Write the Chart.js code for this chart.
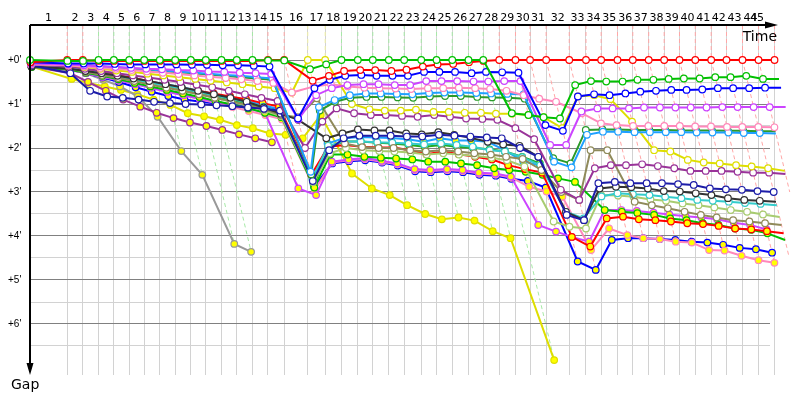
<!DOCTYPE html>
<html>
<head>
<meta charset="utf-8">
<script src="https://cdn.jsdelivr.net/npm/chart.js@4/dist/chart.umd.min.js"></script>
<style>
  html, body { margin: 0; background: #fff; }
</style>
</head>
<body>
<canvas id="gapChart" width="800" height="400"></canvas>
<script>
// Lap-by-lap gap chart: x = race time (minutes), y = gap to leader (minutes).
// A car's point at lap n sits at leader time of lap n + its gap.

const LAP_LABELS = ["1","2","3","4","5","6","7","8","9","10","11","12","13","14","15",
  "16","17","18","19","20","21","22","23","24","25","26","27","28","29","30",
  "31","32","33","34","35","36","37","38","39","40","41","42","43","44","45"];

// leader's elapsed time at the end of each lap (index 0 = start)
const LEADER_TIME = [0, 3.58, 5.08, 6.59, 8.06, 9.54, 10.98, 12.48, 13.96, 15.46, 16.90,
  18.41, 19.88, 21.39, 22.88, 24.44, 26.71, 28.38, 29.95, 31.52, 32.96,
  34.50, 35.98, 37.62, 39.09, 40.60, 42.16, 43.58, 45.12, 46.68, 48.08,
  49.63, 51.85, 53.46, 54.92, 56.49, 57.96, 59.49, 60.98, 62.45, 63.97,
  65.50, 66.97, 68.51, 70.05, 71.59];

const GAP_TICKS = [0, 0.5, 1, 1.5, 2, 2.5, 3, 3.5, 4, 4.5, 5, 5.5, 6, 6.5];
const GAP_LABEL_VALUES = [0, 1, 2, 3, 4, 5, 6];
const GAP_LABELS = ["+0'", "+1'", "+2'", "+3'", "+4'", "+5'", "+6'"];

// gaps per lap, one array per car
const GAP_GREEN = [0, 0.02, 0.02, 0, 0, 0, 0, 0, 0, 0, 0, 0, 0, 0, 0.01, 0.01,
  0.21, 0.1, 0, 0, 0, 0, 0, 0, 0, 0, 0, 0,
  1.21, 1.25, 1.3, 1.33, 0.57, 0.48, 0.49, 0.49, 0.45, 0.45, 0.43, 0.42, 0.42, 0.39, 0.39, 0.36, 0.43, 0.43];
const GAP_RED = [0.05, 0, 0, 0.02, 0.02, 0.02, 0.02, 0.02, 0.02, 0.02, 0.02, 0.02, 0.02, 0.02, 0, 0,
  0.47, 0.36, 0.25, 0.23, 0.23, 0.25, 0.22, 0.15, 0.1, 0.09, 0.05, 0.02,
  0, 0, 0, 0, 0, 0, 0, 0, 0, 0, 0, 0, 0, 0, 0, 0, 0, 0];
const GAP_BLUE = [0.05, 0.08, 0.08, 0.08, 0.09, 0.1, 0.1, 0.1, 0.1, 0.11, 0.11, 0.12, 0.12, 0.13, 0.15,
  1.33, 0.64, 0.45, 0.36, 0.34, 0.36, 0.36, 0.36, 0.27, 0.27, 0.27, 0.3, 0.27, 0.28, 0.29,
  1.48, 1.61, 0.83, 0.78, 0.8, 0.76, 0.72, 0.7, 0.68, 0.68, 0.67, 0.64, 0.64, 0.64, 0.63, 0.63];
const GAP_VIOLET = [0.08, 0.1, 0.12, 0.14, 0.16, 0.18, 0.2, 0.21, 0.23, 0.24, 0.26, 0.27, 0.29, 0.3, 0.32,
  1.35, 0.8, 0.64, 0.57, 0.55, 0.55, 0.57, 0.57, 0.48, 0.48, 0.48, 0.49, 0.49, 0.48, 0.48,
  1.93, 1.93, 1.17, 1.1, 1.1, 1.1, 1.08, 1.08, 1.08, 1.08, 1.08, 1.07, 1.07, 1.07, 1.07, 1.07];
const GAP_PINK = [0.1, 0.12, 0.15, 0.18, 0.2, 0.23, 0.26, 0.29, 0.32, 0.35, 0.38, 0.41, 0.44, 0.48, 0.52,
  0.74, 0.6, 0.55, 0.6, 0.63, 0.64, 0.65, 0.66, 0.64, 0.64, 0.63, 0.64, 0.66, 0.7, 0.8,
  0.88, 0.95, 1.21, 1.44, 1.48, 1.5, 1.5, 1.5, 1.5, 1.51, 1.51, 1.52, 1.52, 1.52, 1.53, 1.53];
const GAP_SKY = [0.08, 0.1, 0.12, 0.14, 0.16, 0.19, 0.21, 0.24, 0.26, 0.29, 0.31, 0.34, 0.36, 0.39, 0.42,
  2.54, 1.07, 0.91, 0.8, 0.76, 0.76, 0.77, 0.78, 0.75, 0.74, 0.74, 0.75, 0.76, 0.77, 0.78,
  2.31, 2.44, 1.7, 1.63, 1.63, 1.64, 1.64, 1.64, 1.64, 1.65, 1.65, 1.65, 1.66, 1.66, 1.67, 1.67];
const GAP_DKGREEN = [0.08, 0.1, 0.12, 0.15, 0.17, 0.2, 0.22, 0.25, 0.28, 0.3, 0.33, 0.36, 0.39, 0.42, 0.45,
  2.6, 1.15, 0.95, 0.86, 0.84, 0.84, 0.85, 0.86, 0.83, 0.82, 0.82, 0.84, 0.85, 0.86, 0.88,
  2.23, 2.35, 1.59, 1.58, 1.58, 1.59, 1.59, 1.59, 1.6, 1.6, 1.6, 1.61, 1.61, 1.62, 1.62, 1.62];
const GAP_YELLOW = [0.08, 0.12, 0.16, 0.2, 0.24, 0.27, 0.31, 0.35, 0.39, 0.43, 0.47, 0.51, 0.55, 0.6, 0.64,
  0.74, 0, 0, 1.0, 1.12, 1.15, 1.15, 1.13, 1.18, 1.18, 1.2, 1.2, 1.22, 1.22, 1.25,
  1.3, 1.55, 0.83, 0.8, 0.89, 1.4, 2.05, 2.08, 2.27, 2.33, 2.35, 2.39, 2.42, 2.46, 2.52];
const GAP_PURPLE = [0.1, 0.15, 0.2, 0.25, 0.3, 0.35, 0.4, 0.45, 0.5, 0.56, 0.62, 0.7, 0.78, 0.86, 0.93,
  2.0, 1.4, 1.1, 1.21, 1.25, 1.25, 1.27, 1.29, 1.25, 1.29, 1.33, 1.34, 1.36, 1.55, 1.8,
  2.95, 3.18, 2.46, 2.39, 2.39, 2.37, 2.41, 2.46, 2.52, 2.52, 2.52, 2.54, 2.56, 2.56, 2.59];
const GAP_NAVY = [0.12, 0.3, 0.7, 0.83, 0.86, 0.9, 0.95, 0.98, 1.0, 1.01, 1.03, 1.05, 1.08, 1.11, 1.15,
  2.75, 2.05, 1.78, 1.72, 1.72, 1.72, 1.74, 1.74, 1.7, 1.72, 1.74, 1.76, 1.78, 2.0, 2.2,
  3.52, 3.64, 2.8, 2.77, 2.8, 2.8, 2.8, 2.82, 2.84, 2.92, 2.94, 2.95, 2.98, 3.0, 3.0];
const GAP_BLACK = [0.15, 0.2, 0.25, 0.3, 0.36, 0.42, 0.48, 0.55, 0.62, 0.7, 0.78, 0.86, 0.95, 1.08, 1.22,
  1.36, 1.78, 1.67, 1.58, 1.6, 1.6, 1.67, 1.69, 1.64, 1.7, 1.77, 1.86, 1.92, 1.95, 2.2,
  3.45, 3.64, 2.92, 2.88, 2.89, 2.92, 2.98, 2.99, 3.03, 3.07, 3.14, 3.18, 3.2, 3.22];
const GAP_KHAKI = [0.14, 0.2, 0.27, 0.34, 0.41, 0.48, 0.56, 0.63, 0.7, 0.78, 0.86, 0.94, 1.02, 1.12, 1.25,
  1.3, 0.87, 1.9, 1.98, 2.0, 2.0, 2.05, 2.08, 2.05, 2.08, 2.12, 2.15, 2.2, 2.25, 2.5,
  3.0, 3.18, 2.05, 2.05, 3.22, 3.3, 3.37, 3.45, 3.52, 3.58, 3.64, 3.67, 3.71, 3.75];
const GAP_TEAL = [0.12, 0.18, 0.24, 0.3, 0.37, 0.44, 0.51, 0.58, 0.65, 0.73, 0.8, 0.88, 0.96, 1.06, 1.18,
  2.7, 1.95, 1.85, 1.85, 1.87, 1.88, 1.9, 1.92, 1.9, 1.93, 1.97, 2.05, 2.08, 2.21, 2.39,
  3.45, 3.6, 3.1, 3.03, 3.05, 3.07, 3.11, 3.14, 3.18, 3.2, 3.22, 3.25, 3.27, 3.3];
const GAP_LIME = [0.13, 0.19, 0.26, 0.33, 0.4, 0.47, 0.55, 0.62, 0.7, 0.78, 0.86, 0.95, 1.04, 1.15, 1.28,
  2.78, 2.12, 2.0, 2.05, 2.07, 2.08, 2.1, 2.15, 2.12, 2.15, 2.18, 2.22, 2.28, 2.42, 3.67,
  3.79, 3.83, 3.07, 3.08, 3.11, 3.17, 3.2, 3.26, 3.3, 3.35, 3.41, 3.45, 3.51, 3.57];
const GAP_RED_B = [0.1, 0.15, 0.2, 0.28, 0.35, 0.41, 0.48, 0.56, 0.64, 0.7, 0.76, 0.83, 0.89, 0.98, 1.06,
  2.61, 1.97, 1.93, 1.97, 1.99, 1.99, 2.05, 2.14, 2.08, 2.14, 2.2, 2.26, 2.39, 2.48, 2.56,
  4.02, 4.24, 3.6, 3.56, 3.62, 3.64, 3.67, 3.71, 3.73, 3.77, 3.83, 3.85, 3.89, 3.94];
const GAP_GREEN_B = [0.16, 0.22, 0.29, 0.36, 0.44, 0.52, 0.6, 0.68, 0.76, 0.84, 0.93, 1.01, 1.1, 1.2, 1.3,
  2.9, 2.15, 2.15, 2.2, 2.22, 2.24, 2.26, 2.31, 2.31, 2.35, 2.39, 2.46, 2.5, 2.54, 2.61,
  2.69, 2.77, 3.41, 3.45, 3.48, 3.52, 3.6, 3.64, 3.71, 3.75, 3.83, 3.86, 3.94, 4.09];
const GAP_GREEN_C = [0.12, 0.18, 0.24, 0.3, 0.37, 0.44, 0.52, 0.6, 0.67, 0.75, 0.83, 0.91, 0.99, 1.09, 1.2,
  2.85, 2.0, 1.85, 1.85, 1.88, 1.9, 1.93, 1.97, 1.93, 1.97, 2.0, 2.03, 2.08, 2.2, 2.35];
const GAP_SKY_B = [0.12, 0.17, 0.22, 0.28, 0.34, 0.41, 0.48, 0.55, 0.62, 0.7, 0.77, 0.85, 0.93, 1.02, 1.12,
  2.8, 1.9, 1.78, 1.75, 1.76, 1.77, 1.8, 1.86, 1.78, 1.83, 1.83, 1.86, 2.05, 2.3, 2.4];
const GAP_VIOLET_B = [0.15, 0.22, 0.3, 0.38, 0.46, 0.55, 0.63, 0.72, 0.8, 0.88, 0.95, 1.02, 1.1, 1.2,
  2.92, 3.07, 2.31, 2.26, 2.23, 2.29, 2.35, 2.48, 2.5, 2.48, 2.5, 2.56, 2.58, 2.65,
  3.75, 3.9, 4.02, 4.13, 3.41, 3.41, 3.43, 3.47, 3.51, 3.55, 3.58, 3.62, 3.7, 3.75, 3.85];
const GAP_PINK_B = [0.16, 0.23, 0.3, 0.38, 0.46, 0.54, 0.63, 0.72, 0.8, 0.89, 0.98, 1.07, 1.16, 1.25, 1.35,
  2.95, 2.33, 2.28, 2.25, 2.31, 2.37, 2.5, 2.52, 2.5, 2.52, 2.58, 2.6, 2.67,
  2.88, 2.99, 3.11, 4.32, 3.83, 3.98, 4.05, 4.07, 4.13, 4.15, 4.32, 4.33, 4.45, 4.55, 4.61];
const GAP_BLUE_B = [0.15, 0.22, 0.3, 0.4, 0.5, 0.62, 0.72, 0.82, 0.9, 0.95, 0.99, 1.02, 1.05, 1.08, 1.1,
  2.88, 2.35, 2.3, 2.28, 2.33, 2.4, 2.53, 2.55, 2.53, 2.55, 2.61, 2.63, 2.7, 2.75, 2.9,
  4.58, 4.77, 4.09, 4.05, 4.05, 4.07, 4.09, 4.13, 4.15, 4.2, 4.27, 4.3, 4.38, 4.47];
const GAP_PURPLE_B = [0.15, 0.3, 0.5, 0.7, 0.9, 1.06, 1.2, 1.32, 1.42, 1.5, 1.59, 1.69, 1.78, 1.87];
const GAP_GREY = [0.15, 0.2, 0.3, 0.45, 0.6, 0.83, 1.29, 2.07, 2.61, 4.18, 4.36];
const GAP_YELLOW_B = [0.15, 0.43, 0.52, 0.6, 0.68, 0.78, 0.9, 1.02, 1.21, 1.28, 1.36, 1.48, 1.55, 1.67, 1.7,
  1.78, 1.25, 2.58, 2.92, 3.07, 3.3, 3.5, 3.62, 3.58, 3.65, 3.89, 4.05, 6.82];

const SERIES = [GAP_GREEN, GAP_RED, GAP_BLUE, GAP_VIOLET, GAP_PINK, GAP_SKY, GAP_DKGREEN,
  GAP_YELLOW, GAP_PURPLE, GAP_NAVY, GAP_BLACK, GAP_KHAKI, GAP_TEAL, GAP_LIME,
  GAP_RED_B, GAP_GREEN_B, GAP_GREEN_C, GAP_SKY_B, GAP_VIOLET_B, GAP_PINK_B, GAP_BLUE_B,
  GAP_PURPLE_B, GAP_GREY, GAP_YELLOW_B];

const LINE_COLORS = ["#00c000", "#ff0000", "#0000ff", "#cc44ff", "#ff88bb", "#1ea0ff", "#2a9a2a",
  "#dede00", "#993399", "#1c1ca8", "#333333", "#8f8a5a", "#33cccc", "#a8cc70",
  "#ff0000", "#00c000", "#22aa22", "#1ea0ff", "#cc44ff", "#ff88bb", "#0000ff",
  "#993399", "#999999", "#dede00"];
const MARKER_FILLS = ["#ffffff", "#ffffff", "#ffffff", "#ffffff", "#ffffff", "#ffffff", "#ffffff",
  "#ffffff", "#ffffff", "#ffffff", "#ffffff", "#ffffff", "#ffffff", "#ffffff",
  "#ffff00", "#ffff00", "#ffff00", "#ffff00", "#ffff00", "#ffff00", "#ffff00",
  "#ffff00", "#ffff00", "#ffff00"];

const PX_PER_MIN = 10.4;
const X_MAX = 740 / PX_PER_MIN;
const GAP_MIN = -35 / 44;
const GAP_MAX = 315 / 44;

function lighten(hex, k) {
  const n = parseInt(hex.slice(1), 16);
  const m = (c) => Math.round(c + (255 - c) * k);
  return `rgb(${m((n >> 16) & 255)},${m((n >> 8) & 255)},${m(n & 255)})`;
}

function carDatasets() {
  return SERIES.map((gaps, i) => ({
    data: gaps.map((g, lap) => ({ x: LEADER_TIME[lap] + g, y: g })),
    borderColor: LINE_COLORS[i],
    borderWidth: 2,
    pointRadius: 3.3,
    pointBorderWidth: 1.2,
    pointBorderColor: LINE_COLORS[i],
    pointBackgroundColor: MARKER_FILLS[i],
    tension: 0,
    clip: false,
    order: 1,
  }));
}

// dashed lap lines: down from the top to the leader, then along all cars on that lap
function lapDatasets() {
  const out = [];
  for (let lap = 1; lap < LEADER_TIME.length; lap++) {
    let lead = -1, gMin = Infinity, gMax = 0;
    SERIES.forEach((gaps, i) => {
      if (lap >= gaps.length) return;
      if (gaps[lap] < gMin) { gMin = gaps[lap]; lead = i; }
      gMax = Math.max(gMax, gaps[lap]);
    });
    const t = LEADER_TIME[lap];
    out.push({
      data: [{ x: t, y: GAP_MIN }, { x: t, y: 0 }, { x: t + gMax, y: gMax }],
      borderColor: lighten(LINE_COLORS[lead], 0.65),
      borderWidth: 1,
      borderDash: [4, 3],
      pointRadius: 0,
      tension: 0,
      clip: false,
      order: 10,
    });
  }
  return out;
}

const decorPlugin = {
  id: "decor",
  afterDraw(chart) {
    const { ctx, chartArea: a, scales: { x, y } } = chart;
    ctx.save();
    ctx.fillStyle = "#000";
    ctx.strokeStyle = "#000";

    // lap numbers, centred in each lap
    ctx.font = "11px 'DejaVu Sans'";
    ctx.textAlign = "center";
    ctx.textBaseline = "alphabetic";
    LAP_LABELS.forEach((lbl, i) => {
      const px = x.getPixelForValue((LEADER_TIME[i] + LEADER_TIME[i + 1]) / 2);
      ctx.fillText(lbl, Math.min(px, 757), 21);
    });

    // gap labels
    ctx.font = "10px 'Liberation Sans'";
    ctx.textAlign = "left";
    ctx.textBaseline = "middle";
    GAP_LABEL_VALUES.forEach((v, i) => ctx.fillText(GAP_LABELS[i], 8, y.getPixelForValue(v)));

    // axes with arrows
    ctx.lineWidth = 2;
    ctx.beginPath();
    ctx.moveTo(a.left, a.top);
    ctx.lineTo(768, a.top);
    ctx.moveTo(a.left, a.top);
    ctx.lineTo(a.left, 366);
    ctx.stroke();
    ctx.beginPath();
    ctx.moveTo(778, a.top); ctx.lineTo(765, a.top - 3.5); ctx.lineTo(765, a.top + 3.5); ctx.closePath();
    ctx.moveTo(a.left, 375); ctx.lineTo(a.left - 3.5, 363); ctx.lineTo(a.left + 3.5, 363); ctx.closePath();
    ctx.fill();

    ctx.font = "14px 'DejaVu Sans'";
    ctx.textBaseline = "alphabetic";
    ctx.textAlign = "right";
    ctx.fillText("Time", 777, 41);
    ctx.textAlign = "left";
    ctx.fillText("Gap", 11, 389);
    ctx.restore();
  },
};

new Chart(document.getElementById("gapChart"), {
  type: "line",
  data: { datasets: [...carDatasets(), ...lapDatasets()] },
  options: {
    responsive: false,
    devicePixelRatio: 1,
    animation: false,
    events: [],
    layout: { padding: { left: 30, right: 30, top: 25, bottom: 25 } },
    plugins: { legend: { display: false }, tooltip: { enabled: false } },
    scales: {
      x: {
        type: "linear",
        min: 0,
        max: X_MAX,
        border: { display: false },
        ticks: { display: false },
        grid: { drawTicks: false, color: "#d2d2d2", lineWidth: 1 },
        afterBuildTicks: (s) => { s.ticks = LEADER_TIME.slice(1).map((v) => ({ value: v })); },
      },
      y: {
        type: "linear",
        reverse: true,
        min: GAP_MIN,
        max: GAP_MAX,
        border: { display: false },
        ticks: { display: false },
        grid: {
          drawTicks: false,
          lineWidth: 1,
          color: (c) => (c.tick && c.tick.value % 1 === 0 ? "#808080" : "#d2d2d2"),
        },
        afterBuildTicks: (s) => { s.ticks = GAP_TICKS.map((v) => ({ value: v })); },
      },
    },
  },
  plugins: [decorPlugin],
});
</script>
</body>
</html>
